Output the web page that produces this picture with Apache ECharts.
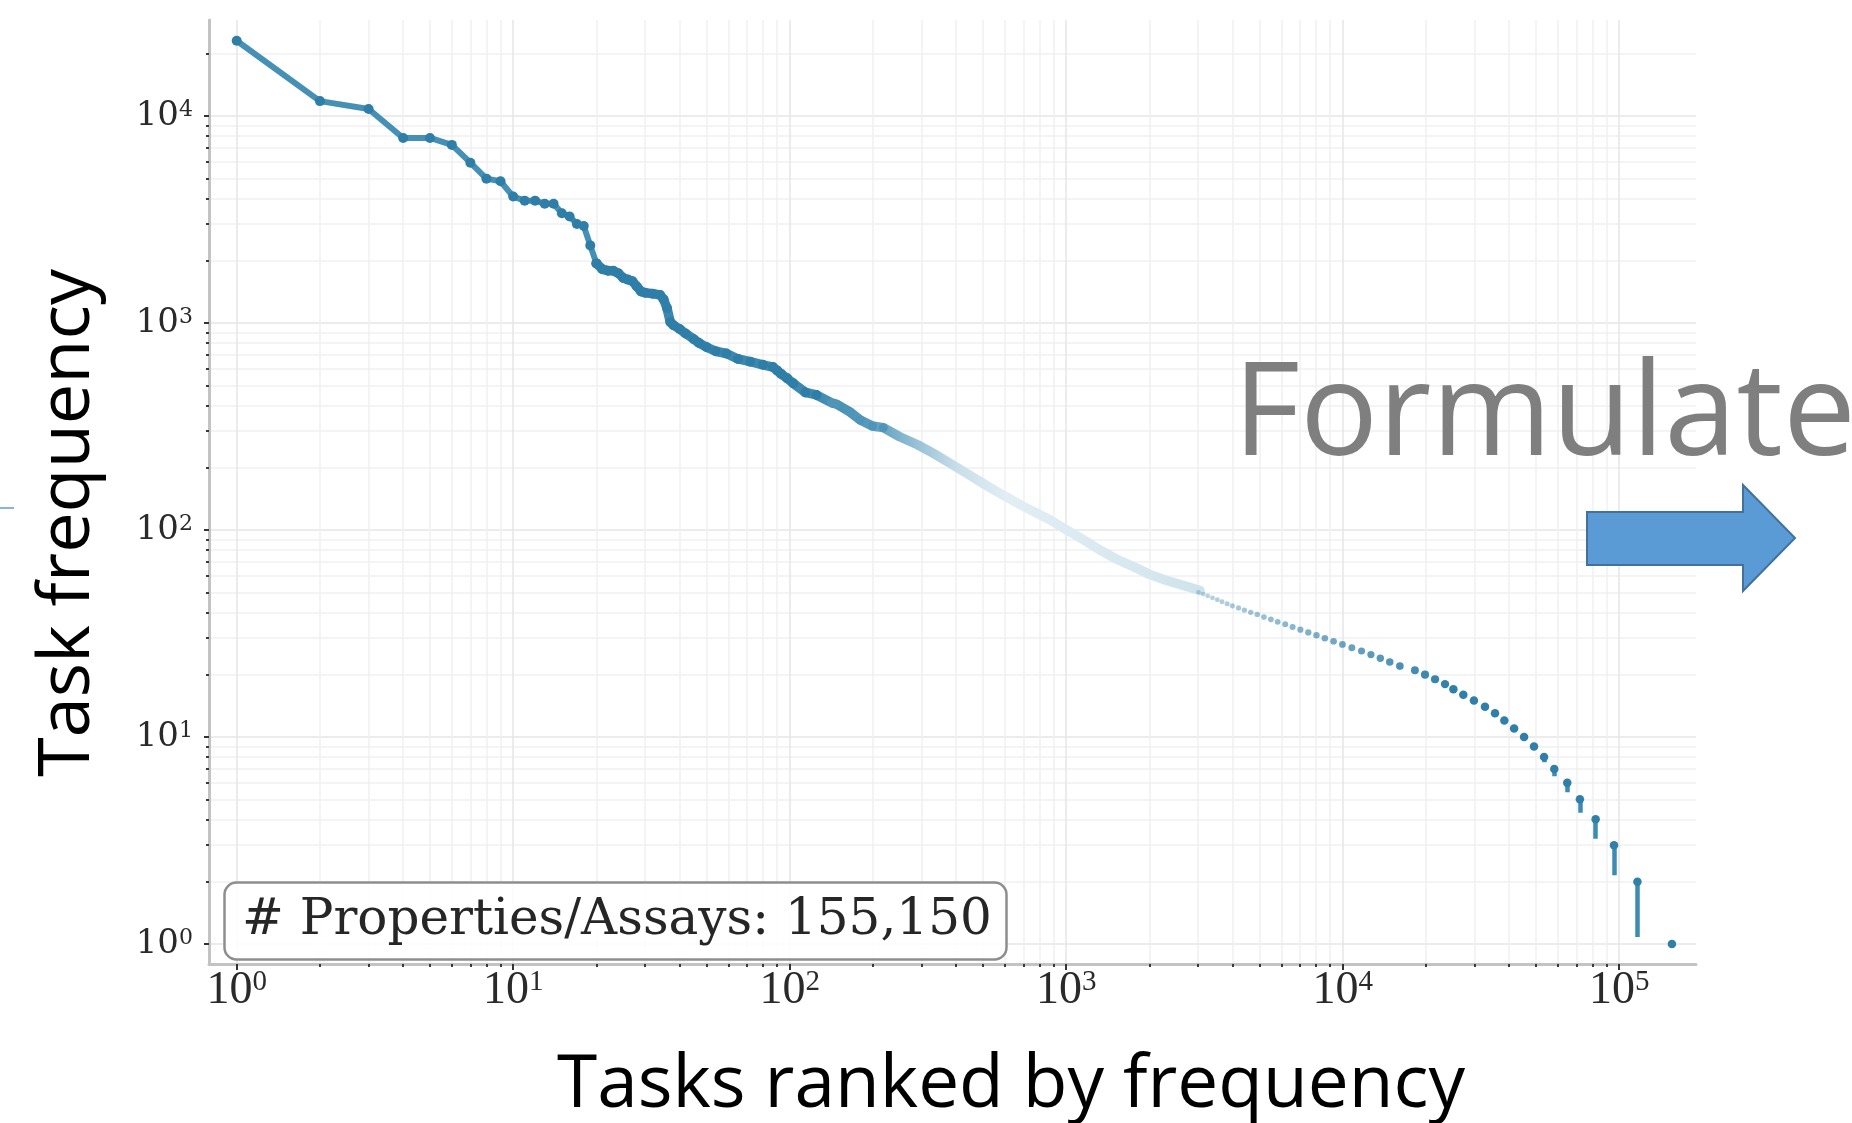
<!DOCTYPE html>
<html>
<head>
<meta charset="utf-8">
<script src="https://cdn.jsdelivr.net/npm/echarts@6/dist/echarts.min.js"></script>
<style>
html,body{margin:0;padding:0;background:#ffffff;}
#chart{width:1852px;height:1123px;}
</style>
</head>
<body>
<div id="chart"></div>
<script>
// ---------- data ----------
// head: individually visible ranks (line + markers)
const headRanks = [1,2,3,4,5,6,7,8,9,10,11,12,13,14,15,16,17,18,19,20];
const headFreqs = [23100,11800,10800,7830,7830,7250,5950,4980,4840,4080,3900,3900,3770,3770,3390,3270,3010,2940,2370,1940];

// dense band: ranks where markers merge into a thick band that fades out
const bandRanks = [20,21,22,23,24,25,26,27,28,29,30,32,34,35,36,37,38,40,42,45,47,50,54,59,65,72,80,87,90,93,98,103,114,125,142,148,165,180,199,218,250,290,330,380,436,500,577,700,873,1003,1150,1324,1530,1750,2000,2307,2650,3048];
const bandFreqs = [1940,1820,1790,1790,1740,1650,1620,1590,1500,1420,1400,1385,1365,1300,1180,1010,975,935,890,835,800,765,730,712,670,650,628,612,590,568,540,511,462,449,411,405,372,340,318,312,282,258,235,210,188,168,150,130,112,100,90,80,72,66.5,61,57,54,51];

// tail: last rank of each integer frequency level (discrete dots)
const tailFreqs = [50,49,48,47,46,45,44,43,42,41,40,39,38,37,36,35,34,33,32,31,30,29,28,27,26,25,24,23,22,21,20,19,18,17,16,15,14,13,12,11,10,9,8,7,6,5,4,3,2,1];
const tailRanks = [3010,3130,3250,3380,3520,3660,3820,3990,4200,4410,4650,4910,5190,5500,5820,6200,6590,7030,7510,8040,8620,9270,9980,10790,11700,12650,13680,14800,16100,18250,19850,21580,23450,25140,27310,29830,32710,35560,38430,41690,45300,49200,53500,58250,64900,72100,82200,95800,116400,155150];

// visible parts of the vertical drops between the last levels
const dropRanks = [53500,58250,64900,72100,82200,95800,116400];
const dropTops  = [8,7,6,5,4,3,2];
const dropLows  = [7.55,6.45,5.4,4.3,3.22,2.15,1.08];

// axis ticks
const xMajorTicks = [1,10,100,1000,10000,100000];
const yMajorTicks = [1,10,100,1000,10000];
const minorMultipliers = [2,3,4,5,6,7,8,9];

const xMin = 0.794, xMax = 189600;
const yMin = 0.8,   yMax = 29090;

// ---------- helpers ----------
function withMinors(majors, lo, hi){
  const out = [];
  majors.forEach(m => { out.push(m); minorMultipliers.forEach(k => out.push(k*m)); });
  return out.filter(v => v >= lo && v <= hi);
}
const xAllTicks = withMinors(xMajorTicks, xMin, xMax);
const yAllTicks = withMinors(yMajorTicks, yMin, yMax);
const gridColors = ['#e6e6e6','#f0f0f0','#f0f0f0','#f0f0f0','#f0f0f0','#f0f0f0','#f0f0f0','#f0f0f0','#f0f0f0'];

function powLabel(v){ const n = Math.round(Math.log10(v)); return '{b|10}{s|' + n + '}'; }

// band gradient, offsets derived from the band's own log-rank span
const bandColorStops = [[20,'#3a87ae'],[120,'#3d89af'],[200,'#5a9cbd'],[280,'#93bfd4'],[400,'#c8dee9'],[600,'#e1eef4'],[1200,'#dbeaf1'],[3048,'#cfe3ec']];
const lr0 = Math.log10(bandRanks[0]), lr1 = Math.log10(bandRanks[bandRanks.length-1]);
const bandGradient = new echarts.graphic.LinearGradient(0,0,1,0,
  bandColorStops.map(s => ({offset: Math.min(1, Math.max(0, (Math.log10(s[0]) - lr0)/(lr1 - lr0))), color: s[1]})));

const bandData = bandRanks.map((r,i) => {
  const item = {value:[r, bandFreqs[i]]};
  if (r <= 130) { item.symbol = 'circle'; item.symbolSize = 10; item.itemStyle = {color:'#2f7ea7'}; }
  else if (r <= 220) { item.symbol = 'circle'; item.symbolSize = 9; item.itemStyle = {color:'#4f95b8'}; }
  else { item.symbol = 'none'; }
  return item;
});

const tailData = tailRanks.map((r,i) => {
  const t = Math.min(1, Math.max(0, (Math.log10(r) - 3.45)/(4.4 - 3.45)));
  return {value:[r, tailFreqs[i]], symbolSize: 4.5 + 4*t, itemStyle:{color:'#2f7fa8', opacity: 0.3 + 0.7*t}};
});

const dropData = dropRanks.map((r,i) => ({coords: [[r, dropTops[i]], [r, dropLows[i]]]}));

const chart = echarts.init(document.getElementById('chart'), null, {renderer:'canvas'});

const xRich = {
  b:{fontFamily:'Liberation Serif', fontSize:46, lineHeight:46, color:'#2a2a2a', verticalAlign:'bottom'},
  s:{fontFamily:'Liberation Serif', fontSize:29, lineHeight:30, color:'#2a2a2a', verticalAlign:'top'}
};
const yRich = {
  b:{fontFamily:'DejaVu Serif', fontSize:34, lineHeight:34, color:'#2a2a2a', verticalAlign:'bottom'},
  s:{fontFamily:'DejaVu Serif', fontSize:22, lineHeight:22, color:'#2a2a2a', verticalAlign:'top'}
};

const option = {
  animation:false,
  backgroundColor:'#ffffff',
  grid:{left:209, right:156, top:20, bottom:159, containLabel:false, outerBoundsMode:'none'},
  title:{
    text:'# Properties/Assays: 155,150',
    left:224, top:882,
    padding:[11,15,11,18],
    borderColor:'#8e8e8e', borderWidth:2.5, borderRadius:12,
    backgroundColor:'rgba(255,255,255,0.9)',
    textStyle:{fontFamily:'DejaVu Serif', fontSize:50, fontWeight:'normal', color:'#262626', lineHeight:56}
  },
  xAxis:[
    {type:'log', logBase:10, min:xMin, max:xMax, position:'bottom',
     axisLine:{show:true, onZero:false, lineStyle:{color:'#c3c3c3', width:3}},
     axisTick:{show:true, customValues:xAllTicks, length:3, lineStyle:{color:'#3a3a3a', width:2}},
     axisLabel:{show:false},
     splitLine:{show:true, lineStyle:{color:gridColors, width:1.5}},
     minorTick:{show:false}, minorSplitLine:{show:false}},
    {type:'log', logBase:10, min:xMin, max:xMax, position:'bottom',
     axisLine:{show:false},
     axisTick:{show:true, customValues:xMajorTicks, length:6, lineStyle:{color:'#333333', width:2}},
     axisLabel:{show:true, customValues:xMajorTicks, margin:4, formatter:powLabel, rich:xRich, hideOverlap:false},
     splitLine:{show:false}}
  ],
  yAxis:[
    {type:'log', logBase:10, min:yMin, max:yMax, position:'left',
     axisLine:{show:true, onZero:false, lineStyle:{color:'#c3c3c3', width:3}},
     axisTick:{show:true, customValues:yAllTicks, length:3, lineStyle:{color:'#3a3a3a', width:2}},
     axisLabel:{show:false},
     splitLine:{show:true, lineStyle:{color:gridColors, width:1.5}},
     minorTick:{show:false}, minorSplitLine:{show:false}},
    {type:'log', logBase:10, min:yMin, max:yMax, position:'left',
     axisLine:{show:false},
     axisTick:{show:true, customValues:yMajorTicks, length:5, lineStyle:{color:'#333333', width:2}},
     axisLabel:{show:true, customValues:yMajorTicks, margin:16, formatter:powLabel, rich:yRich, hideOverlap:false},
     splitLine:{show:false}}
  ],
  series:[
    {type:'line', name:'band', xAxisIndex:0, yAxisIndex:0, data:bandData,
     showAllSymbol:true, symbol:'circle', lineStyle:{width:9.5, color:bandGradient, cap:'round', join:'round'},
     z:2, silent:true},
    {type:'line', name:'head', xAxisIndex:0, yAxisIndex:0,
     data:headRanks.map((r,i) => [r, headFreqs[i]]),
     showAllSymbol:true, symbol:'circle', symbolSize:10,
     itemStyle:{color:'#2f7ea7'}, lineStyle:{width:6, color:'#4690b6', join:'round'},
     z:3, silent:true},
    {type:'lines', coordinateSystem:'cartesian2d', xAxisIndex:0, yAxisIndex:0,
     data:dropData, lineStyle:{color:'#3d8bb3', width:4.5, opacity:1}, z:3, silent:true},
    {type:'scatter', name:'tail', xAxisIndex:0, yAxisIndex:0, data:tailData,
     symbol:'circle', z:4, silent:true}
  ],
  graphic:[
    {type:'text', x:1011, y:1086, z:100,
     style:{text:'Tasks ranked by frequency', font:'73px "Open Sans"', fill:'#000000', textAlign:'center', textVerticalAlign:'middle', verticalAlign:'middle'}},
    {type:'text', x:68, y:523, rotation:Math.PI/2, z:100,
     style:{text:'Task frequency', font:'72px "Open Sans"', fill:'#000000', textAlign:'center', textVerticalAlign:'middle', verticalAlign:'middle'}},
    {type:'text', x:1233, y:418, scaleX:1.0, z:100,
     style:{text:'Formulate', font:'130px "Open Sans"', fill:'#7f7f7f', textAlign:'left', textVerticalAlign:'middle', verticalAlign:'middle'}},
    {type:'polygon', z:100,
     shape:{points:[[1587,512],[1743,512],[1743,485],[1795,538],[1743,591],[1743,565],[1587,565]]},
     style:{fill:'#5b9bd5', stroke:'#41719c', lineWidth:2}},
    {type:'line', z:100, shape:{x1:0, y1:508, x2:14, y2:508}, style:{stroke:'#5b9bd5', lineWidth:1.5}}
  ]
};
chart.setOption(option);
</script>
</body>
</html>
